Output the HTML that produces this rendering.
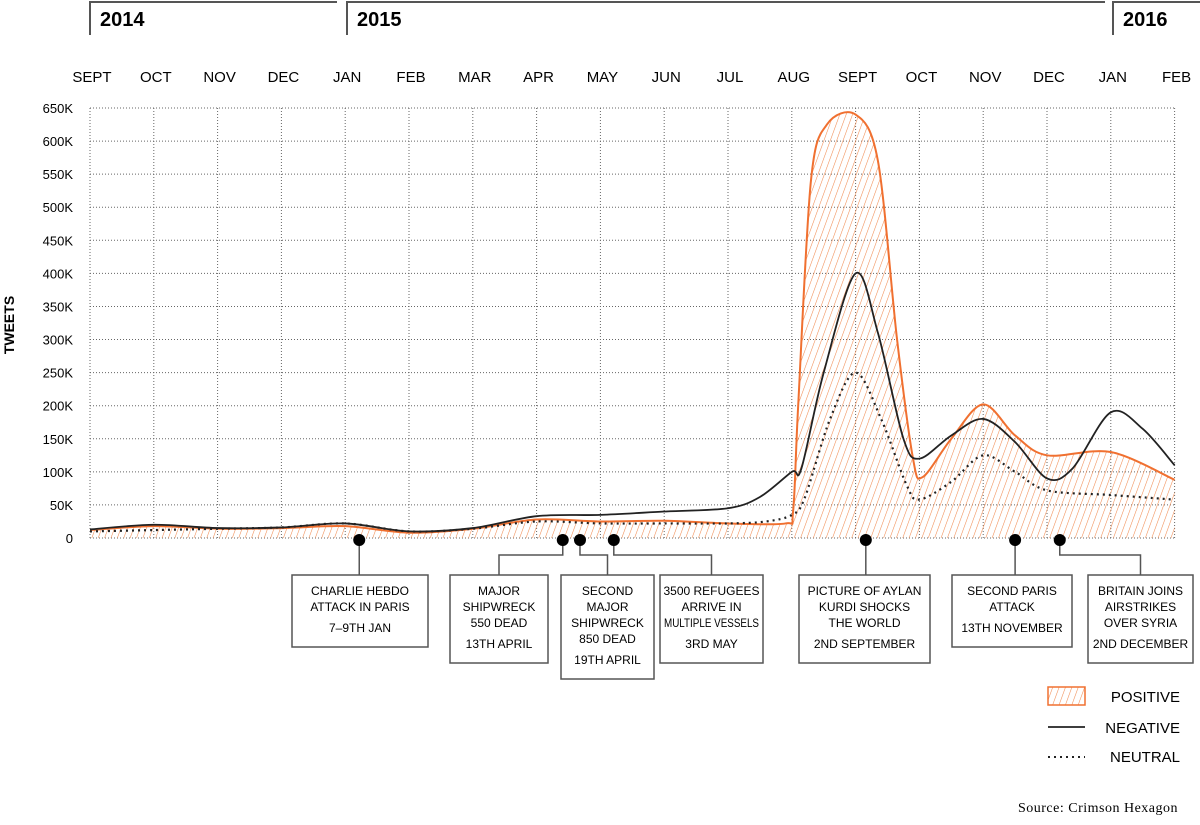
<!DOCTYPE html>
<html><head><meta charset="utf-8">
<style>
html,body{margin:0;padding:0;background:#fff;}
body{width:1200px;height:820px;overflow:hidden;font-family:"Liberation Sans",sans-serif;}
svg text{font-family:"Liberation Sans",sans-serif;}
</style></head>
<body>
<svg id="chart" width="1200" height="820" xmlns="http://www.w3.org/2000/svg">
<defs>
<pattern id="hatch" patternUnits="userSpaceOnUse" width="6" height="6" patternTransform="rotate(20)">
<line x1="0" y1="0" x2="0" y2="6" stroke="#f08a50" stroke-width="1.1"/>
</pattern>
</defs>
<g id="years"></g>
<g id="grid"></g>
<g id="series"></g>
<g id="notes"></g>
<text transform="translate(14,325) rotate(-90)" text-anchor="middle" font-size="14" font-weight="bold">TWEETS</text>
<g>
<rect x="1048" y="687" width="37" height="18" fill="url(#hatch)" stroke="#f07030" stroke-width="1.5"/>
<text x="1180" y="702" text-anchor="end" font-size="15">POSITIVE</text>
<line x1="1048" y1="727" x2="1085" y2="727" stroke="#222" stroke-width="1.8"/>
<text x="1180" y="733" text-anchor="end" font-size="15">NEGATIVE</text>
<line x1="1048" y1="757" x2="1085" y2="757" stroke="#222" stroke-width="2" stroke-dasharray="2,4"/>
<text x="1180" y="762" text-anchor="end" font-size="15">NEUTRAL</text>
</g>
<text x="1178" y="812" text-anchor="end" font-size="14" style="font-family:'Liberation Serif',serif" letter-spacing="0.5">Source: Crimson Hexagon</text>
</svg>
<script>
const months = ["SEPT","OCT","NOV","DEC","JAN","FEB","MAR","APR","MAY","JUN","JUL","AUG","SEPT","OCT","NOV","DEC","JAN","FEB"];
const yTicks = [0,50,100,150,200,250,300,350,400,450,500,550,600,650];
const yTickLabels = ["0","50K","100K","150K","200K","250K","300K","350K","400K","450K","500K","550K","600K","650K"];
const posX = [0,1,2,3,4,5,6,7,8,9,10,10.9,11.02,11.1,11.3,11.55,12,12.35,12.65,12.9,13.05,13.5,14,14.5,15,16,17];
const posY = [12,18,14,15,18,8,14,28,25,26,22,22,40,200,540,625,640,570,300,120,92,150,202,155,125,130,88];
const negX = [0,1,2,3,4,5,6,7,8,9,10,10.5,11,11.15,11.5,12,12.35,12.75,13,13.5,14,14.5,15,15.4,16,16.5,17];
const negY = [13,20,15,16,22,10,15,33,35,40,45,62,100,105,250,400,310,150,120,155,180,145,90,105,190,165,110];
const neuX = [0,1,2,3,4,5,6,7,8,9,10,10.6,11,11.2,11.6,12,12.4,12.8,13,13.5,14,14.5,15,16,17];
const neuY = [10,12,14,16,22,10,14,25,22,22,22,25,35,60,180,250,180,80,58,85,125,100,72,65,58];
const events = [4.22,7.41,7.68,8.21,12.16,14.5,15.2];
const eventLabels = [["CHARLIE HEBDO","ATTACK IN PARIS","7–9TH JAN"],["MAJOR","SHIPWRECK","550 DEAD","13TH APRIL"],["SECOND","MAJOR","SHIPWRECK","850 DEAD","19TH APRIL"],["3500 REFUGEES","ARRIVE IN","MULTIPLE VESSELS","3RD MAY"],["PICTURE OF AYLAN","KURDI SHOCKS","THE WORLD","2ND SEPTEMBER"],["SECOND PARIS","ATTACK","13TH NOVEMBER"],["BRITAIN JOINS","AIRSTRIKES","OVER SYRIA","2ND DECEMBER"]];
const boxes=[[292,428],[450,548],[561,654],[660,763],[799,930],[952,1072],[1088,1193]];
const NS="http://www.w3.org/2000/svg";
const X0=90,DX=63.8,Y0=538,YS=430/650;
const xs=m=>X0+m*DX, ys=v=>Y0-v*YS;
function mk(tag,attrs,parent){const e=document.createElementNS(NS,tag);for(const k in attrs)e.setAttribute(k,attrs[k]);parent.appendChild(e);return e;}
const grid=document.getElementById('grid');
yTicks.forEach((t,i)=>{
 const l=mk('line',{x1:X0,x2:xs(17),y1:ys(t),y2:ys(t),stroke:'#666','stroke-width':1,'stroke-dasharray':'1,2'},grid);
 
 
 const tx=mk('text',{x:73,y:ys(t)+5,'text-anchor':'end','font-size':13},grid);tx.textContent=yTickLabels[i];
 
 
});
months.forEach((m,i)=>{
 const l=mk('line',{x1:xs(i),x2:xs(i),y1:ys(650),y2:Y0,stroke:'#666','stroke-width':1,'stroke-dasharray':'1,2'},grid);
 
 
 const tx=mk('text',{x:xs(i)+2,y:82,'text-anchor':'middle','font-size':15},grid);tx.textContent=m;
 
 
});
const yg=document.getElementById('years');
[[90,337,"2014"],[347,1105,"2015"],[1113,1205,"2016"]].forEach(([a,b,t])=>{
 const p=mk('path',{d:`M${a},35 V2 H${b}`,fill:'none',stroke:'#555','stroke-width':2},yg);
 
 
 const tx=mk('text',{x:a+10,y:26,'font-size':20,'font-weight':'bold'},yg);tx.textContent=t;
 
 
});
function curve(X,Y){
 const P=X.map((x,i)=>[xs(x),ys(Y[i])]);
 let d=`M${P[0][0]},${P[0][1]}`;
 for(let i=0;i<P.length-1;i++){
  const p0=P[Math.max(0,i-1)],p1=P[i],p2=P[i+1],p3=P[Math.min(P.length-1,i+2)];
  const t=0.16;
  let c1y=p1[1]+(p2[1]-p0[1])*t, c2y=p2[1]-(p3[1]-p1[1])*t;
  c1y=Math.min(Y0,c1y);c2y=Math.min(Y0,c2y);
  d+=` C${p1[0]+(p2[0]-p0[0])*t},${c1y} ${p2[0]-(p3[0]-p1[0])*t},${c2y} ${p2[0]},${p2[1]}`;
 }
 return d;
}
const sg=document.getElementById('series');
const pd=curve(posX,posY);
const area=mk('path',{d:pd+` L${xs(17)},${Y0} L${xs(0)},${Y0} Z`,fill:'url(#hatch)',stroke:'none'},sg);


const pl=mk('path',{d:pd,fill:'none',stroke:'#f07030','stroke-width':2},sg);


const nl=mk('path',{d:curve(negX,negY),fill:'none',stroke:'#222','stroke-width':1.8},sg);


const ul=mk('path',{d:curve(neuX,neuY),fill:'none',stroke:'#222','stroke-width':2.2,'stroke-dasharray':'2,4'},sg);


const ng=document.getElementById('notes');
events.forEach((m,i)=>{
 const ex=xs(m),[a,b]=boxes[i],cx=(a+b)/2,n=eventLabels[i].length;
 const h=n*16+(n>2?20:18)+4;
 const d=Math.abs(cx-ex)<8?`M${ex},540 V575`:`M${ex},540 V555 H${cx} V575`;
 const c=mk('path',{d:d,fill:'none',stroke:'#555','stroke-width':1.5},ng);
 
 
 const dot=mk('circle',{cx:ex,cy:540,r:6,fill:'#000'},ng);
 
 
 const r=mk('rect',{x:a,y:575,width:b-a,height:h,fill:'#fff',stroke:'#555','stroke-width':1.5},ng);
 
 
 eventLabels[i].forEach((s,j)=>{
  const yy=595+j*16+(j===n-1?5:0);
  const t=mk('text',{x:cx,y:yy,'text-anchor':'middle','font-size':12},ng);t.textContent=s;
  if(s.length*7.4>b-a-6){t.setAttribute('textLength',b-a-8);t.setAttribute('lengthAdjust','spacingAndGlyphs');}
  
  
 });
});
</script>
</body></html>
